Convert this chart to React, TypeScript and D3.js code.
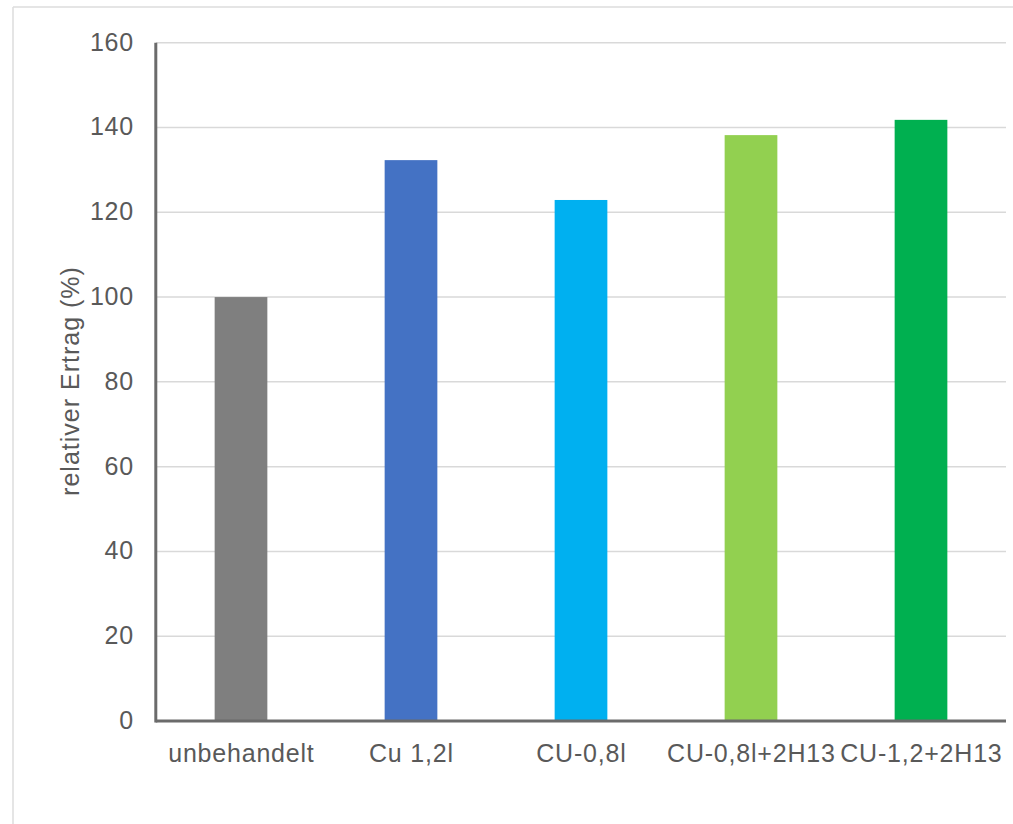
import React from "react";
import * as d3 from "d3";

const categories = ["unbehandelt", "Cu 1,2l", "CU-0,8l", "CU-0,8l+2H13", "CU-1,2+2H13"];
const values = [100, 132.3, 122.9, 138.2, 141.8];
const colors = ["#7f7f7f", "#4472c4", "#00b0f0", "#92d050", "#00b050"];
const yTicks = [0, 20, 40, 60, 80, 100, 120, 140, 160];

const width = 1013;
const height = 824;

const App = () => {
  const x = d3.scaleBand().domain(categories).range([156, 1006]).padding(0);
  const y = d3.scaleLinear().domain([0, 160]).range([721, 42.7]);
  const barW = x.bandwidth() * 0.31;
  const textColor = "#595959";

  return (
    <svg
      width={width}
      height={height}
      style={{ position: "absolute", left: 0, top: 0 }}
      fontFamily="'Liberation Sans', Arial, sans-serif"
    >
      <rect x={0} y={0} width={width} height={height} fill="#fff" />
      <line x1={13} y1={7} x2={width} y2={7} stroke="#dcdcdc" strokeWidth={1.5} />
      <line x1={13} y1={7} x2={13} y2={height} stroke="#dcdcdc" strokeWidth={1.5} />

      {yTicks.map((t) => (
        <g key={t}>
          {t > 0 && (
            <line x1={156} x2={1006} y1={y(t)} y2={y(t)} stroke="#d9d9d9" strokeWidth={1.5} />
          )}
          <text
            x={134}
            y={y(t) - 1}
            textAnchor="end"
            dominantBaseline="central"
            fontSize={25}
            letterSpacing={0.8}
            fill={textColor}
          >
            {t}
          </text>
        </g>
      ))}

      {categories.map((c, i) => (
        <rect
          key={c}
          x={(x(c) as number) + x.bandwidth() / 2 - barW / 2}
          y={y(values[i])}
          width={barW}
          height={y(0) - y(values[i])}
          fill={colors[i]}
        />
      ))}

      <line x1={155.8} x2={155.8} y1={y(160)} y2={y(0) + 1.5} stroke="#6b6b6b" strokeWidth={3} />
      <line x1={155.8} x2={1006} y1={y(0)} y2={y(0)} stroke="#6b6b6b" strokeWidth={3} />

      {categories.map((c) => (
        <text
          key={c}
          x={(x(c) as number) + x.bandwidth() / 2 + 0.4}
          y={762}
          textAnchor="middle"
          fontSize={25}
          letterSpacing={0.8}
          fill={textColor}
        >
          {c}
        </text>
      ))}

      <text
        transform={`translate(70,381) rotate(-90)`}
        textAnchor="middle"
        dominantBaseline="central"
        fontSize={25}
        letterSpacing={1}
        fill={textColor}
      >
        relativer Ertrag (%)
      </text>
    </svg>
  );
};

export default App;
